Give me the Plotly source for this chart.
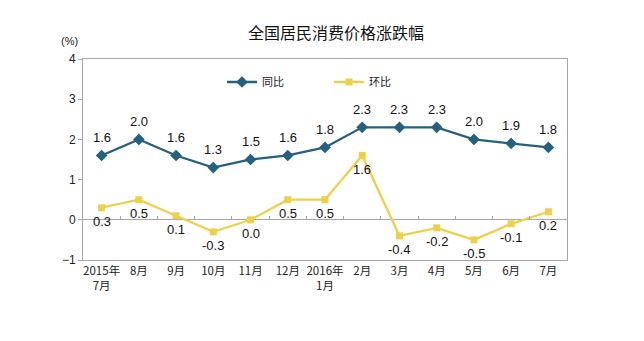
import plotly.graph_objects as go

# 全国居民消费价格涨跌幅（2015年7月—2016年7月）
months = ["2015年<br>7月", "8月", "9月", "10月", "11月", "12月", "2016年<br>1月",
          "2月", "3月", "4月", "5月", "6月", "7月"]
yoy = [1.6, 2.0, 1.6, 1.3, 1.5, 1.6, 1.8, 2.3, 2.3, 2.3, 2.0, 1.9, 1.8]    # 同比
mom = [0.3, 0.5, 0.1, -0.3, 0.0, 0.5, 0.5, 1.6, -0.4, -0.2, -0.5, -0.1, 0.2]  # 环比

y_ticks = [-1, 0, 1, 2, 3, 4]

BLUE = "#25607F"
YELLOW = "#EFD04A"
AXIS = "#A6A6A6"
NUM_FONT = "Liberation Sans, Arial, sans-serif"
CJK_FONT = "Noto Sans CJK SC, sans-serif"

fig = go.Figure()

fig.add_trace(go.Scatter(
    x=months, y=yoy, name="同比",
    mode="lines+markers",
    line=dict(color=BLUE, width=2.3),
    marker=dict(symbol="diamond", size=9, color=BLUE),
))

fig.add_trace(go.Scatter(
    x=months, y=mom, name="环比",
    mode="lines+markers",
    line=dict(color=YELLOW, width=2.3),
    marker=dict(symbol="square", size=7, color=YELLOW),
))

# carrier for the category tick marks drawn on the zero line
fig.add_trace(go.Scatter(
    x=months, y=[None] * len(months), xaxis="x2",
    showlegend=False, hoverinfo="skip", mode="lines",
))

# value labels: 同比 above its points, 环比 below
labels = []
for series, shift in ((yoy, 18), (mom, -14)):
    for m, v in zip(months, series):
        labels.append(dict(
            x=m, y=v, xref="x", yref="y", text=f"{v:.1f}",
            showarrow=False, xanchor="center", yanchor="middle", yshift=shift,
            font=dict(family=NUM_FONT, size=13, color="#111111"),
        ))

labels.append(dict(text="(%)", xref="paper", yref="paper",
                   x=(69 - 83) / 484, y=(260 - 41) / 201,
                   xanchor="center", yanchor="middle", showarrow=False,
                   font=dict(family=NUM_FONT, size=11, color="#222222")))

y_lo, y_hi = -1, 4

fig.update_layout(
    width=644, height=341,
    margin=dict(l=83, r=77, t=59, b=81),
    paper_bgcolor="white", plot_bgcolor="white",
    title=dict(text="全国居民消费价格涨跌幅", x=336 / 644, xanchor="center",
               y=1 - 33 / 341, yanchor="middle",
               font=dict(family=CJK_FONT, size=16, color="#111111")),
    xaxis=dict(type="category", categoryarray=months, range=[-0.5, 12.5],
               showline=True, mirror=True, linecolor=AXIS, linewidth=1,
               ticks="", showgrid=False,
               tickfont=dict(family=CJK_FONT, size=11.5, color="#222222")),
    xaxis2=dict(type="category", categoryarray=months, matches="x",
                overlaying="x", anchor="free",
                position=(0 - y_lo) / (y_hi - y_lo),
                showticklabels=False, showline=False, showgrid=False,
                ticks="inside", ticklen=4, tickcolor=AXIS,
                tickson="boundaries"),
    yaxis=dict(range=[y_lo, y_hi], tickvals=y_ticks,
               showline=True, mirror=True, linecolor=AXIS, linewidth=1,
               ticks="outside", ticklen=4, tickcolor=AXIS,
               showgrid=False, zeroline=True, zerolinecolor=AXIS,
               zerolinewidth=1,
               tickfont=dict(family=NUM_FONT, size=12, color="#222222")),
    legend=dict(orientation="h", x=(222 - 83) / 484, xanchor="left",
                y=(260 - 82) / 201, yanchor="middle",
                bgcolor="rgba(0,0,0,0)",
                entrywidthmode="pixels", entrywidth=62,
                font=dict(family=CJK_FONT, size=11, color="#222222")),
    annotations=labels,
)

fig.write_html("out.html")
